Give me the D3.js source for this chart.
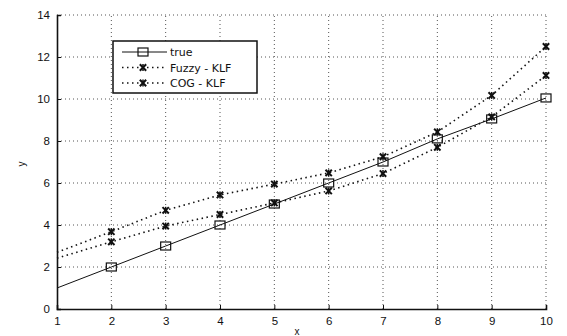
<!DOCTYPE html>
<html>
<head>
<meta charset="utf-8">
<script src="https://cdn.jsdelivr.net/npm/d3@7"></script>
<style>
  body { margin: 0; background: #fff; }
  text { font-family: "Liberation Sans", Arial, sans-serif; fill: #111; }
</style>
</head>
<body>
<div class="canvas"></div>
<script>
// values
const xs = [1, 2, 3, 4, 5, 6, 7, 8, 9, 10];
const trueVals = [1, 2, 3, 4, 5, 6, 7, 8.1, 9.05, 10.05];
const fuzzyVals = [2.7, 3.68, 4.7, 5.43, 5.95, 6.48, 7.25, 8.43, 10.17, 12.5];
const cogVals = [2.42, 3.2, 3.95, 4.5, 5.05, 5.62, 6.45, 7.7, 9.15, 11.12];
const xTicks = [1, 2, 3, 4, 5, 6, 7, 8, 9, 10];
const yTicks = [0, 2, 4, 6, 8, 10, 12, 14];
const legendLabels = ["true", "Fuzzy - KLF", "COG - KLF"];

const svg = d3.select(".canvas")
  .append("svg")
  .attr("width", 567)
  .attr("height", 336);

const x = d3.scaleLinear().domain([1, 10]).range([57, 546]);
const y = d3.scaleLinear().domain([0, 14]).range([309, 15]);

// dotted grid
const grid = svg.append("g").attr("stroke", "#555").attr("stroke-width", 1)
  .attr("stroke-dasharray", "1,3");
grid.selectAll("line.gx")
  .data(xTicks.slice(1))
  .join("line")
  .attr("x1", d => x(d)).attr("x2", d => x(d))
  .attr("y1", y(0)).attr("y2", y(14));
grid.selectAll("line.gy")
  .data(yTicks.slice(1))
  .join("line")
  .attr("x1", x(1)).attr("x2", x(10))
  .attr("y1", d => y(d)).attr("y2", d => y(d));

// axes
const xAxis = d3.axisBottom(x).tickValues(xTicks).tickSize(-4).tickPadding(8).tickFormat(d3.format("d"));
const yAxis = d3.axisLeft(y).tickValues(yTicks).tickSize(-4).tickPadding(7).tickFormat(d3.format("d"));

const gx = svg.append("g").attr("transform", `translate(0,${y(0)})`).call(xAxis);
const gy = svg.append("g").attr("transform", `translate(${x(1)},0)`).call(yAxis);
[gx, gy].forEach(g => {
  g.select(".domain").attr("stroke", "#111").attr("stroke-width", 1.6);
  g.selectAll(".tick line").attr("stroke", "#111");
  g.selectAll(".tick text").style("font-size", "11.5px").attr("fill", "#111");
});

svg.append("text").attr("x", 297).attr("y", 335).attr("text-anchor", "middle")
  .style("font-size", "10px").text("x");
svg.append("text").attr("transform", "translate(25,164) rotate(-90)")
  .attr("text-anchor", "middle").style("font-size", "10px").text("y");

// lines
const line = vals => d3.line().x((d, i) => x(xs[i])).y(d => y(d))(vals);

svg.append("path").attr("d", line(trueVals)).attr("fill", "none")
  .attr("stroke", "#111").attr("stroke-width", 1);
[fuzzyVals, cogVals].forEach(vals => {
  svg.append("path").attr("d", line(vals)).attr("fill", "none")
    .attr("stroke", "#111").attr("stroke-width", 1.6).attr("stroke-dasharray", "1.5,3.5");
});

// markers
const drawStar = (g, cx, cy) => {
  g.append("path").attr("transform", `translate(${cx},${cy})`)
    .attr("d", d3.symbol().type(d3.symbolX || d3.symbolCross).size(28)())
    .attr("fill", "none").attr("stroke", "#111").attr("stroke-width", 2);
  g.append("line").attr("x1", cx).attr("x2", cx).attr("y1", cy - 3.5).attr("y2", cy + 3.5)
    .attr("stroke", "#111").attr("stroke-width", 1.5);
};
const drawSquare = (g, cx, cy) => {
  g.append("rect").attr("x", cx - 5).attr("y", cy - 4).attr("width", 10).attr("height", 8)
    .attr("fill", "none").attr("stroke", "#111").attr("stroke-width", 1.2);
};

const marks = svg.append("g");
xs.forEach((xv, i) => {
  if (xv === 1) return;
  drawSquare(marks, x(xv), y(trueVals[i]));
  drawStar(marks, x(xv), y(fuzzyVals[i]));
  drawStar(marks, x(xv), y(cogVals[i]));
});

// legend
const leg = svg.append("g");
leg.append("rect").attr("x", 113).attr("y", 41).attr("width", 144).attr("height", 52)
  .attr("fill", "#fff").attr("stroke", "#111").attr("stroke-width", 1.5);
legendLabels.forEach((lab, i) => {
  const ly = 52 + i * 15.5;
  const l = leg.append("line").attr("x1", 122).attr("x2", 167).attr("y1", ly).attr("y2", ly)
    .attr("stroke", "#111");
  if (i === 0) {
    drawSquare(leg, 143, ly);
  } else {
    l.attr("stroke-width", 1.6).attr("stroke-dasharray", "1.5,3.5");
    drawStar(leg, 143, ly);
  }
  leg.append("text").attr("x", 170).attr("y", ly + 4)
    .style("font-family", "'DejaVu Sans', sans-serif").style("font-size", "11px").text(lab);
});
</script>
</body>
</html>
